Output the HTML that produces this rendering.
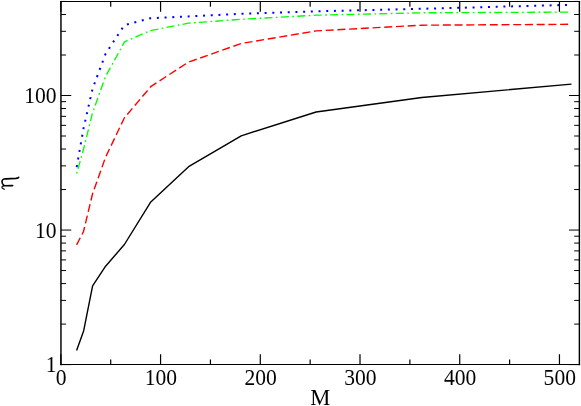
<!DOCTYPE html><html><head><meta charset="utf-8"><style>html,body{margin:0;padding:0;background:#fff}svg{display:block;will-change:transform}text{font-family:"Liberation Serif",serif;font-size:23.2px;fill:#000}</style></head><body>
<svg width="581" height="406" viewBox="0 0 581 406">
<rect width="581" height="406" fill="#fff"/>
<polyline fill="none" stroke="#000" stroke-width="1.4" stroke-linejoin="round" points="76.6,350.6 83.7,330.7 92.6,285.9 105.6,266.2 124.4,244.5 150.8,201.9 188.6,166.7 241.2,135.8 316.1,112.0 421.8,97.5 571.5,84.1"/>
<polyline fill="none" stroke="#f00" stroke-width="1.4" stroke-dasharray="8.0 3.73" points="76.6,244.9 83.5,231.5 92.5,194.0 105.5,157.3 124.4,117.8 150.8,86.6 188.3,62.2 241.2,43.5 316.0,30.9 421.7,25.2 571.3,24.3"/>
<polyline fill="none" stroke="#0f0" stroke-width="1.35" stroke-dasharray="1.7 3.25 8.0 3.47" points="76.7,173.6 83.5,149.3 92.5,113.0 105.4,76.8 124.6,41.8 150.4,30.6 188.3,23.2 241.2,19.3 316.0,15.2 421.7,12.8 571.3,12.1"/>
<polyline fill="none" stroke="#00f" stroke-width="2" stroke-dasharray="2 5.705" points="76.7,167.1 83.5,128.5 92.5,89.0 105.5,54.0 124.2,25.3 150.4,18.2 188.3,16.4 241.2,13.8 316.0,11.3 421.7,8.8 571.3,4.8"/>
<path d="M60.85 364.60v-10.40M60.85 1.45v10.40M110.71 364.60v-5.20M110.71 1.45v5.20M160.57 364.60v-10.40M160.57 1.45v10.40M210.43 364.60v-5.20M210.43 1.45v5.20M260.29 364.60v-10.40M260.29 1.45v10.40M310.15 364.60v-5.20M310.15 1.45v5.20M360.01 364.60v-10.40M360.01 1.45v10.40M409.87 364.60v-5.20M409.87 1.45v5.20M459.73 364.60v-10.40M459.73 1.45v10.40M509.59 364.60v-5.20M509.59 1.45v5.20M559.45 364.60v-10.40M559.45 1.45v10.40" stroke="#000" stroke-width="1.2" fill="none"/>
<path d="M60.85 364.60h10.40M579.39 364.60h-10.40M60.85 324.10h5.20M579.39 324.10h-5.20M60.85 300.40h5.20M579.39 300.40h-5.20M60.85 283.59h5.20M579.39 283.59h-5.20M60.85 270.55h5.20M579.39 270.55h-5.20M60.85 259.90h5.20M579.39 259.90h-5.20M60.85 250.89h5.20M579.39 250.89h-5.20M60.85 243.09h5.20M579.39 243.09h-5.20M60.85 236.21h5.20M579.39 236.21h-5.20M60.85 230.05h10.40M579.39 230.05h-10.40M60.85 189.55h5.20M579.39 189.55h-5.20M60.85 165.85h5.20M579.39 165.85h-5.20M60.85 149.04h5.20M579.39 149.04h-5.20M60.85 136.00h5.20M579.39 136.00h-5.20M60.85 125.35h5.20M579.39 125.35h-5.20M60.85 116.34h5.20M579.39 116.34h-5.20M60.85 108.54h5.20M579.39 108.54h-5.20M60.85 101.66h5.20M579.39 101.66h-5.20M60.85 95.50h10.40M579.39 95.50h-10.40M60.85 55.00h5.20M579.39 55.00h-5.20M60.85 31.30h5.20M579.39 31.30h-5.20M60.85 14.49h5.20M579.39 14.49h-5.20M60.85 1.45h5.20M579.39 1.45h-5.20" stroke="#000" stroke-width="1.0" fill="none"/>
<path d="M60.95 0.90V365.15M579.39 0.90V365.15" stroke="#000" stroke-width="1.45" fill="none"/>
<path d="M60.25 1.45H580.09M60.25 364.50H580.09" stroke="#000" stroke-width="1.15" fill="none"/>
<text transform="translate(61.20,385.00) scale(0.93,1)" text-anchor="middle">0</text>
<text transform="translate(160.92,385.00) scale(0.93,1)" text-anchor="middle">100</text>
<text transform="translate(260.64,385.00) scale(0.93,1)" text-anchor="middle">200</text>
<text transform="translate(360.36,385.00) scale(0.93,1)" text-anchor="middle">300</text>
<text transform="translate(460.08,385.00) scale(0.93,1)" text-anchor="middle">400</text>
<text transform="translate(559.80,385.00) scale(0.93,1)" text-anchor="middle">500</text>
<text transform="translate(56.60,372.30) scale(0.93,1)" text-anchor="end">1</text>
<text transform="translate(56.60,237.75) scale(0.93,1)" text-anchor="end">10</text>
<text transform="translate(56.60,103.20) scale(0.93,1)" text-anchor="end">100</text>
<text transform="translate(320.4,404.8) scale(0.975,1)" text-anchor="middle">M</text>
<g fill="none" stroke="#000" stroke-linecap="round" stroke-linejoin="round"><path d="M18.7 177.3C18.4 178.1 17.6 178.3 16 178.4L6 178.8" stroke-width="1.7"/><path d="M6 178.8C3.4 178.9 2.0 180.1 2.0 181.7C2.0 183.3 2.8 184.5 4.0 185.3" stroke-width="1.6"/><path d="M12.7 185.6L3.4 185.7" stroke-width="1.6"/><path d="M3.6 185.8C2.4 186.1 1.7 186.7 1.9 187.5C2.2 188.4 3.3 189.0 4.5 189.2" stroke-width="1.15"/></g>
</svg></body></html>
